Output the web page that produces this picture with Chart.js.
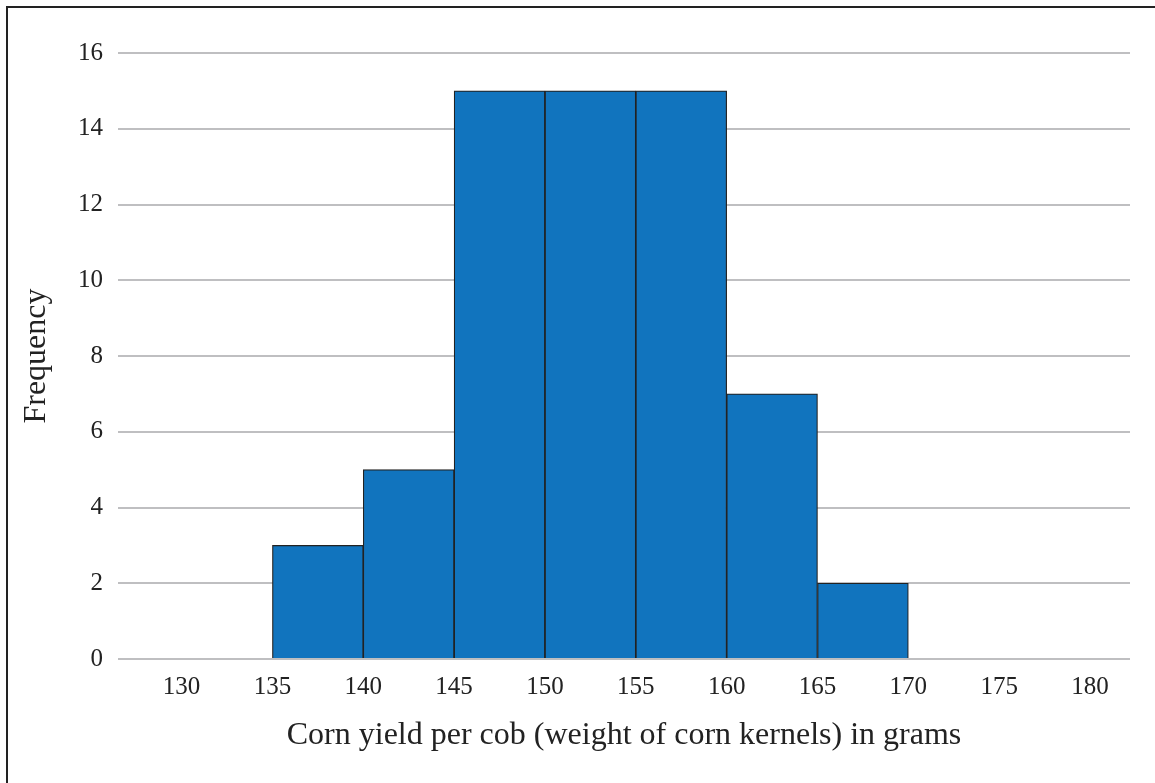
<!DOCTYPE html>
<html>
<head>
<meta charset="utf-8">
<script src="https://cdn.jsdelivr.net/npm/chart.js@4.4.0/dist/chart.umd.min.js"></script>
<style>
  body { margin: 0; background: #fff; }
  #wrap { position: relative; width: 1155px; height: 783px; }
  #frame { position: absolute; left: 6px; top: 6px; right: -10px; bottom: -10px;
           border-left: 2px solid #222; border-top: 2px solid #222; pointer-events: none; }
</style>
</head>
<body>
<div id="wrap">
  <canvas id="chart" width="1155" height="783"></canvas>
  <div id="frame"></div>
</div>
<script>
// bin centres (5 g wide bins) and counts
const binCenters = [137.5, 142.5, 147.5, 152.5, 157.5, 162.5, 167.5];
const frequencies = [3, 5, 15, 15, 15, 7, 2];
const xTicks = [130, 135, 140, 145, 150, 155, 160, 165, 170, 175, 180];
const yTicks = [0, 2, 4, 6, 8, 10, 12, 14, 16];

const serif = "'Liberation Serif', 'DejaVu Serif', serif";

const ctx = document.getElementById("chart").getContext("2d");
new Chart(ctx, {
  type: "bar",
  data: {
    datasets: [
      {
        label: "Frequency",
        data: binCenters.map((x, i) => ({ x: x, y: frequencies[i] })),
        backgroundColor: "#1174BE",
        borderColor: "#222222",
        borderWidth: 1.2,
        barPercentage: 1,
        categoryPercentage: 1,
      },
    ],
  },
  options: {
    responsive: false,
    animation: false,
    layout: { padding: { top: 53, right: 25, left: 0, bottom: 0 } },
    plugins: { legend: { display: false }, tooltip: { enabled: false } },
    scales: {
      x: {
        type: "linear",
        offset: false,
        min: 126.5,
        max: 182.2,
        afterBuildTicks: (axis) => {
          axis.ticks = xTicks.map((v) => ({ value: v }));
        },
        afterFit: (axis) => {
          axis.height = 124;
        },
        grid: { display: false },
        border: { display: false },
        ticks: {
          color: "#222",
          font: { family: serif, size: 25 },
          padding: 5,
          maxRotation: 0,
        },
        title: {
          display: true,
          text: "Corn yield per cob (weight of corn kernels) in grams",
          color: "#222",
          font: { family: serif, size: 32 },
          padding: { top: 0, bottom: 28 },
        },
      },
      y: {
        min: 0,
        max: 16,
        afterBuildTicks: (axis) => {
          axis.ticks = yTicks.map((v) => ({ value: v }));
        },
        afterFit: (axis) => {
          axis.width = 118;
        },
        grid: { color: "#BFBFC1", lineWidth: 2, drawTicks: false },
        border: { display: false },
        ticks: {
          color: "#222",
          font: { family: serif, size: 25 },
          padding: 15,
        },
        title: {
          display: true,
          text: "Frequency",
          color: "#222",
          font: { family: serif, size: 32 },
          padding: { top: 17, bottom: 0 },
        },
      },
    },
  },
});
</script>
</body>
</html>
